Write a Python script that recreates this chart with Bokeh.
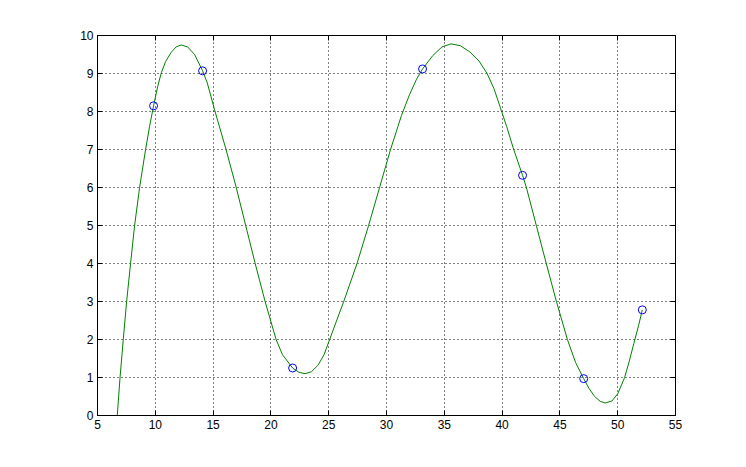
from bokeh.plotting import figure
from bokeh.models import Range1d, FixedTicker, LinearAxis
from bokeh.embed import file_html
from bokeh.resources import INLINE

# Sample points (blue circles)
pts_x = [9.85, 14.09, 21.88, 33.12, 41.77, 47.06, 52.13]
pts_y = [8.15, 9.07, 1.25, 9.12, 6.32, 0.97, 2.78]

# Fitted curve (green line)
curve_x = [6.71, 6.95, 7.23, 7.52, 7.86, 8.21, 8.64, 9.16, 9.5, 9.85, 10.2, 10.52,
           10.9, 11.38, 11.8, 12.25, 12.8, 13.4, 14.09, 14.5, 15.15, 16.12, 17.0,
           17.82, 18.64, 19.5, 20.45, 21.0, 21.88, 22.4, 22.95, 23.5, 24.07, 24.6,
           25.08, 26.3, 27.45, 28.45, 29.4, 30.35, 31.3, 32.0, 32.6, 33.12, 34.0,
           34.8, 35.57, 36.4, 37.2, 38.0, 38.7, 39.3, 39.85, 40.4, 40.95, 41.77,
           42.1, 42.96, 43.82, 44.7, 45.65, 46.35, 47.06, 47.5, 48.0, 48.5, 48.93,
           49.5, 50.0, 50.6, 51.0, 51.4, 51.8, 52.13]
curve_y = [0.0, 1.0, 2.0, 3.0, 4.0, 5.0, 6.0, 7.0, 7.6, 8.15, 8.65, 9.02,
           9.32, 9.56, 9.7, 9.75, 9.7, 9.5, 9.07, 8.75, 8.02, 7.0, 6.0,
           5.0, 4.0, 3.0, 2.0, 1.6, 1.25, 1.14, 1.10, 1.15, 1.32, 1.6,
           2.0, 3.0, 4.0, 5.0, 6.0, 7.0, 7.9, 8.45, 8.85, 9.12, 9.47,
           9.7, 9.78, 9.73, 9.57, 9.33, 9.0, 8.6, 8.1, 7.6, 7.05, 6.32,
           6.0, 5.0, 4.0, 3.0, 2.0, 1.4, 0.97, 0.72, 0.5, 0.37, 0.33,
           0.38, 0.57, 1.0, 1.43, 1.9, 2.36, 2.78]

x_ticks = [5, 10, 15, 20, 25, 30, 35, 40, 45, 50, 55]
y_ticks = [0, 1, 2, 3, 4, 5, 6, 7, 8, 9, 10]

p = figure(width=730, height=451, output_backend="svg", toolbar_location=None,
           x_range=Range1d(5, 55), y_range=Range1d(0, 10),
           min_border_left=97, min_border_right=55, min_border_top=35, min_border_bottom=36)
p.background_fill_color = "white"
p.border_fill_color = "white"
p.outline_line_color = "black"
p.outline_line_width = 1

FONT = "Liberation Sans"

def style_axis(ax, ticks, show_labels=True):
    ax.ticker = FixedTicker(ticks=ticks)
    ax.axis_line_color = "black"
    ax.major_tick_line_color = "black"
    ax.major_tick_in = 5
    ax.major_tick_out = 0
    ax.minor_tick_line_color = None
    ax.major_label_text_font = FONT
    ax.major_label_text_font_size = "12px"
    ax.major_label_text_color = "black" if show_labels else None
    ax.major_label_standoff = 4

style_axis(p.xaxis[0], x_ticks)
style_axis(p.yaxis[0], y_ticks)

top_ax = LinearAxis()
style_axis(top_ax, x_ticks, show_labels=False)
p.add_layout(top_ax, "above")
right_ax = LinearAxis()
style_axis(right_ax, y_ticks, show_labels=False)
p.add_layout(right_ax, "right")

for g in (p.xgrid[0], p.ygrid[0]):
    g.grid_line_color = "black"
    g.grid_line_dash = "1 3"
    g.grid_line_width = 1
    g.grid_line_alpha = 1.0
p.xgrid[0].ticker = FixedTicker(ticks=x_ticks)
p.ygrid[0].ticker = FixedTicker(ticks=y_ticks)

p.line(curve_x, curve_y, line_color="#008000", line_width=1)
p.scatter(pts_x, pts_y, marker="circle", size=8, fill_color=None,
          line_color="#0000ff", line_width=1)

open("out.html", "w").write(file_html(p, INLINE))
